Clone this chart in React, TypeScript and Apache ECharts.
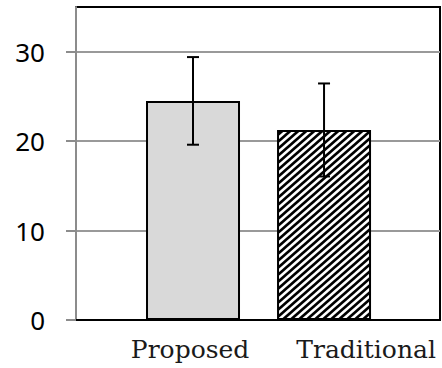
import React, { useEffect, useRef } from "react";
import * as echarts from "echarts";

const categories = ["Proposed", "Traditional"];
const positions = [1, 2];
const means = [24.5, 21.25];
const errors = [4.9, 5.2];
const yTicks = [0, 10, 20, 30];

function makeHatch(): string {
  const w = 8;
  const h = 7;
  const c = document.createElement("canvas");
  c.width = w;
  c.height = h;
  const ctx = c.getContext("2d")!;
  ctx.fillStyle = "#ffffff";
  ctx.fillRect(0, 0, w, h);
  ctx.strokeStyle = "#000000";
  ctx.lineWidth = 2.7;
  for (const o of [-1, 0, 1]) {
    ctx.beginPath();
    ctx.moveTo(o * w - w / h, h + 1);
    ctx.lineTo(o * w + w + w / h, -1);
    ctx.stroke();
  }
  return c.toDataURL();
}

export default function App() {
  const ref = useRef<HTMLDivElement>(null);
  useEffect(() => {
    if (!ref.current) return;
    const chart = echarts.init(ref.current, null, { renderer: "svg" });
    const hatch = makeHatch();
    const fills: any[] = [
      "#d9d9d9",
      { image: hatch, repeat: "repeat" },
    ];
    chart.setOption({
      animation: false,
      grid: {
        left: 76,
        right: 2,
        top: 7,
        bottom: 48,
        show: true,
        borderColor: "#000",
        borderWidth: 2,
        backgroundColor: "transparent",
      },
      xAxis: [
        {
          type: "value",
          min: 0.107,
          max: 2.885,
          position: "bottom",
          axisLine: { show: true, lineStyle: { color: "#000", width: 2 } },
          axisTick: { show: false },
          axisLabel: { show: false },
          splitLine: { show: false },
        },
        {
          type: "value",
          min: 0.352,
          max: 2.42,
          position: "bottom",
          axisLine: { show: false },
          axisTick: { show: false },
          splitLine: { show: false },
          axisLabel: {
            customValues: positions,
            formatter: (v: number) => categories[positions.indexOf(v)] ?? "",
            fontFamily: "DejaVu Serif",
            fontSize: 25,
            color: "#1a1a1a",
            margin: 17,
          },
        },
      ],
      yAxis: {
        type: "value",
        min: 0,
        max: 35,
        interval: 10,
        axisLine: { show: true, lineStyle: { color: "#8c8c8c", width: 2 } },
        axisTick: {
          show: true,
          length: 10,
          customValues: yTicks,
          lineStyle: { color: "#8c8c8c", width: 2 },
        },
        axisLabel: {
          customValues: yTicks,
          fontFamily: "Noto Sans",
          fontSize: 26,
          color: "#000",
          margin: 31,
        },
        splitLine: { show: true, lineStyle: { color: "#999", width: 2 } },
      },
      series: [
        {
          type: "bar",
          xAxisIndex: 0,
          barWidth: 94,
          data: means.map((m, i) => ({
            value: [positions[i], m],
            itemStyle: {
              color: fills[i],
              borderColor: "#000",
              borderWidth: 2,
            },
          })),
        },
        {
          type: "custom",
          xAxisIndex: 0,
          z: 10,
          data: means.map((m, i) => [positions[i], m - errors[i], m + errors[i]]),
          renderItem: (params: any, api: any) => {
            const x = api.value(0);
            const lo = api.coord([x, api.value(1)]);
            const hi = api.coord([x, api.value(2)]);
            const cap = 6;
            const st = { stroke: "#000", lineWidth: 2 };
            return {
              type: "group",
              children: [
                { type: "line", shape: { x1: lo[0], y1: lo[1], x2: hi[0], y2: hi[1] }, style: st },
                { type: "line", shape: { x1: hi[0] - cap, y1: hi[1], x2: hi[0] + cap, y2: hi[1] }, style: st },
                { type: "line", shape: { x1: lo[0] - cap, y1: lo[1], x2: lo[0] + cap, y2: lo[1] }, style: st },
              ],
            };
          },
        },
      ],
    });
    return () => chart.dispose();
  }, []);
  return (
    <div
      ref={ref}
      style={{ position: "absolute", left: 0, top: 0, width: 442, height: 368 }}
    />
  );
}
